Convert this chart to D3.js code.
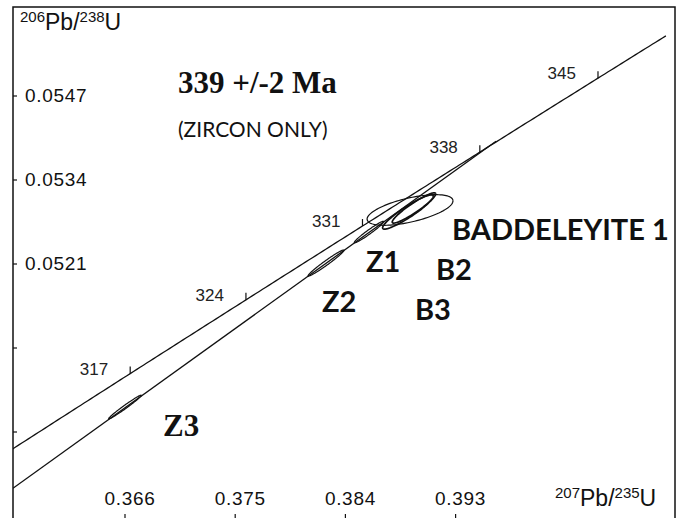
<!DOCTYPE html>
<html>
<head>
<meta charset="utf-8">
<script src="https://cdn.jsdelivr.net/npm/d3@7"></script>
<style>
body { margin: 0; background: #fff; }
svg { display: block; }
</style>
</head>
<body>
<div id="chart"></div>
<script>
// decay constants (1/yr)
const lambda238 = 1.55125e-10,
	lambda235 = 9.8485e-10;

// axes
const xTicks = [0.366, 0.375, 0.384, 0.393];
const yTicks = [0.0547, 0.0534, 0.0521, 0.0508, 0.0495];
const yTickLabels = ["0.0547", "0.0534", "0.0521", "", ""];

// concordia (Ma)
const ageTicks = [317, 324, 331, 338, 345];
const ageRange = [309.8, 349];

// discordia end points [207Pb/235U, 206Pb/238U]
const discordia = [[0.35685, 0.04863], [0.39630, 0.05400]];

// analyses: 207/235 +- , 206/238 +- , rho
const names = ["Z3", "Z2", "Z1", "BADDELEYITE 1", "B2", "B3"];
const r75 = [0.36600, 0.38242, 0.38593, 0.38928, 0.38960, 0.38911];
const s75 = [0.00133, 0.001468, 0.001204, 0.003508, 0.001775, 0.002072];
const r68 = [0.049887, 0.052115, 0.052595, 0.052936, 0.052967, 0.052905];
const s68 = [0.000183, 0.000202, 0.0001665, 0.000237, 0.000234, 0.000265];
const rho = [0.985, 0.978, 0.972, 0.597, 0.93, 0.925];

let width = 683,
	height = 518;

let svg = d3.select('#chart').append('svg')
	.attr('width', width)
	.attr('height', height)
	.style('background', '#fff');

let x = d3.scaleLinear()
	.domain([0.366, 0.393])
	.range([125, 455.6]);

let y = d3.scaleLinear()
	.domain([0.0521, 0.0547])
	.range([264, 96]);

let frame = { left: 13, top: 7, right: 675, bottom: 522 };

svg.append('clipPath').attr('id', 'clip')
	.append('rect')
	.attr('x', frame.left).attr('y', frame.top)
	.attr('width', frame.right - frame.left)
	.attr('height', frame.bottom - frame.top);

svg.append('rect')
	.attr('x', frame.left).attr('y', frame.top)
	.attr('width', frame.right - frame.left)
	.attr('height', frame.bottom - frame.top)
	.attr('fill', 'none')
	.attr('stroke', '#111')
	.attr('stroke-width', 1.5);

let plot = svg.append('g').attr('clip-path', 'url(#clip)');

// concordia curve
function conc(t) {
	return [Math.exp(lambda235 * t * 1e6) - 1, Math.exp(lambda238 * t * 1e6) - 1];
}

let ages = d3.range(ageRange[0], ageRange[1] + 0.01, 0.2);
let line = d3.line()
	.x(function(d) { return x(d[0]) })
	.y(function(d) { return y(d[1]) });

plot.append('path')
	.datum(ages.map(conc))
	.attr('d', line)
	.attr('fill', 'none')
	.attr('stroke', '#111')
	.attr('stroke-width', 1.3);

plot.append('path')
	.datum(discordia)
	.attr('d', line)
	.attr('fill', 'none')
	.attr('stroke', '#111')
	.attr('stroke-width', 1.3);

// age ticks
ageTicks.forEach(function(t) {
	let p = conc(t);
	plot.append('line')
		.attr('x1', x(p[0])).attr('x2', x(p[0]))
		.attr('y1', y(p[1])).attr('y2', y(p[1]) - 7)
		.attr('stroke', '#111').attr('stroke-width', 1.2);
	svg.append('text')
		.attr('x', x(p[0]) - 22)
		.attr('y', y(p[1]) + 1)
		.attr('text-anchor', 'end')
		.style('font-family', 'Liberation Sans, Arial, sans-serif')
		.style('font-size', '17px')
		.style('fill', '#222')
		.text(t);
});

// error ellipses
names.forEach(function(n, i) {
	let pts = d3.range(0, 361, 3).map(function(a) {
		let phi = a * Math.PI / 180;
		return [
			r75[i] + s75[i] * Math.cos(phi),
			r68[i] + s68[i] * (rho[i] * Math.cos(phi) + Math.sqrt(1 - rho[i] * rho[i]) * Math.sin(phi))
		];
	});
	plot.append('path')
		.datum(pts)
		.attr('d', line)
		.attr('fill', 'none')
		.attr('stroke', '#111')
		.attr('stroke-width', (n === 'B2' || n === 'B3') ? 1.7 : 1.2);
});

// y axis ticks
yTicks.forEach(function(v, i) {
	svg.append('line')
		.attr('x1', frame.left).attr('x2', frame.left + 4)
		.attr('y1', y(v)).attr('y2', y(v))
		.attr('stroke', '#111').attr('stroke-width', 1.2);
	if (yTickLabels[i]) {
		svg.append('text')
			.attr('x', 25)
			.attr('y', y(v) + 6)
			.style('font-family', 'Liberation Sans, Arial, sans-serif')
			.style('font-size', '19px')
			.style('letter-spacing', '0.7px')
			.style('fill', '#111')
			.text(yTickLabels[i]);
	}
});

// x axis ticks
xTicks.forEach(function(v) {
	svg.append('line')
		.attr('x1', x(v)).attr('x2', x(v))
		.attr('y1', 518).attr('y2', 514)
		.attr('stroke', '#111').attr('stroke-width', 1.2);
	svg.append('text')
		.attr('x', x(v) + 5)
		.attr('y', 505)
		.attr('text-anchor', 'middle')
		.style('font-family', 'Liberation Sans, Arial, sans-serif')
		.style('font-size', '19px')
		.style('letter-spacing', '0.7px')
		.style('fill', '#111')
		.text(d3.format('.3f')(v));
});

// axis titles
function isoLabel(px, py, a, b, c, d) {
	let t = svg.append('text')
		.attr('x', px).attr('y', py)
		.style('font-family', 'Liberation Sans, Arial, sans-serif')
		.style('font-size', '23px')
		.style('fill', '#111');
	t.append('tspan').attr('dy', -8).style('font-size', '15px').text(a);
	t.append('tspan').attr('dy', 8).text(b + '/');
	t.append('tspan').attr('dy', -8).style('font-size', '15px').text(c);
	t.append('tspan').attr('dy', 8).text(d);
}
isoLabel(20, 30, '206', 'Pb', '238', 'U');
isoLabel(555, 506, '207', 'Pb', '235', 'U');

// annotations
svg.append('text')
	.attr('x', 178).attr('y', 93)
	.style('font-family', 'Liberation Serif, Times New Roman, serif')
	.style('font-weight', 'bold')
	.style('font-size', '31px')
	.style('fill', '#111')
	.text('339 +/-2 Ma');

svg.append('text')
	.attr('x', 178).attr('y', 137)
	.style('font-family', 'Lato, sans-serif')
	.style('font-size', '21px')
	.style('fill', '#111')
	.text('(ZIRCON ONLY)');

let sampleLabels = [
	{ text: 'BADDELEYITE 1', px: 452, py: 240 },
	{ text: 'Z1', px: 366, py: 272 },
	{ text: 'B2', px: 436, py: 280 },
	{ text: 'Z2', px: 322, py: 312 },
	{ text: 'B3', px: 415, py: 320 },
	{ text: 'Z3', px: 163, py: 436 }
];

sampleLabels.forEach(function(d) {
	svg.append('text')
		.attr('x', d.px).attr('y', d.py)
		.style('font-family', d.text === 'Z3' ? 'Liberation Serif, serif' : 'Lato, sans-serif')
		.style('font-weight', 'bold')
		.style('font-size', d.text === 'Z3' ? '31px' : '29px')
		.style('fill', '#111')
		.text(d.text);
});
</script>
</body>
</html>
